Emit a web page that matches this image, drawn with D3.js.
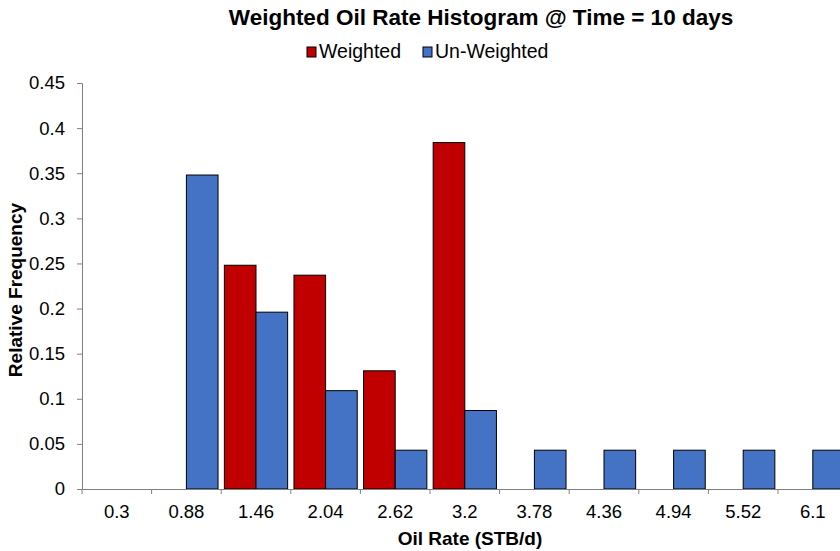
<!DOCTYPE html>
<html>
<head>
<meta charset="utf-8">
<script src="https://cdn.jsdelivr.net/npm/d3@7"></script>
<style>
  body { margin: 0; background: #fff; overflow: hidden; }
  svg { display: block; font-family: "Liberation Sans", Arial, sans-serif; }
</style>
</head>
<body>
<div id="chart"></div>
<script>
// data
const categories = ["0.3", "0.88", "1.46", "2.04", "2.62", "3.2", "3.78", "4.36", "4.94", "5.52", "6.1"];
const series = ["Weighted", "Un-Weighted"];
const weighted = [0, 0, 0.248, 0.237, 0.131, 0.384, 0, 0, 0, 0, 0];
const unweighted = [0, 0.348, 0.196, 0.109, 0.043, 0.087, 0.043, 0.043, 0.043, 0.043, 0.043];
const yTicks = [0, 0.05, 0.1, 0.15, 0.2, 0.25, 0.3, 0.35, 0.4, 0.45];
const yTickLabels = ["0", "0.05", "0.1", "0.15", "0.2", "0.25", "0.3", "0.35", "0.4", "0.45"];
const colors = { "Weighted": "#C00000", "Un-Weighted": "#4472C4" };

const width = 840, height = 551;
const plot = { left: 82, top: 83, bottom: 489, step: 69.6 };
const font = "Liberation Sans, Arial, sans-serif";

const svg = d3.select("#chart").append("svg")
  .attr("width", width)
  .attr("height", height);

const x0 = d3.scaleBand()
  .domain(categories)
  .range([plot.left, plot.left + plot.step * categories.length]);

const x1 = d3.scaleBand()
  .domain(series)
  .range([0, x0.bandwidth()])
  .paddingOuter(0.1);

const y = d3.scaleLinear()
  .domain([0, 0.45])
  .range([plot.bottom, plot.top]);

const rows = categories.map((c, i) => ({
  cat: c,
  vals: [
    { key: "Weighted", value: weighted[i] },
    { key: "Un-Weighted", value: unweighted[i] }
  ]
}));

// bars
const groups = svg.append("g").selectAll("g")
  .data(rows)
  .join("g")
  .attr("transform", d => `translate(${x0(d.cat)},0)`);

groups.selectAll("rect")
  .data(d => d.vals.filter(v => v.value > 0))
  .join("rect")
  .attr("x", d => x1(d.key))
  .attr("y", d => y(d.value))
  .attr("width", x1.bandwidth())
  .attr("height", d => y(0) - y(d.value))
  .attr("fill", d => colors[d.key])
  .attr("stroke", "#000")
  .attr("stroke-width", 1);

// y axis
const yAxis = svg.append("g")
  .attr("transform", `translate(${plot.left},0)`)
  .call(d3.axisLeft(y).tickValues(yTicks).tickSize(5).tickPadding(12)
    .tickFormat((d, i) => yTickLabels[i]));
yAxis.select(".domain").attr("stroke", "#808080");
yAxis.selectAll(".tick line").attr("stroke", "#808080");
yAxis.selectAll("text").attr("font-size", 18.5).attr("fill", "#000")
  .attr("font-family", font);

// x axis
const xAxis = svg.append("g")
  .attr("transform", `translate(0,${plot.bottom})`)
  .call(d3.axisBottom(x0).tickSize(0).tickPadding(16).tickSizeOuter(0));
xAxis.select(".domain").attr("stroke", "#808080");
xAxis.selectAll("text").attr("font-size", 18.5).attr("fill", "#000")
  .attr("font-family", font);
xAxis.selectAll(".boundary")
  .data(categories)
  .join("line")
  .attr("class", "boundary")
  .attr("x1", d => x0(d))
  .attr("x2", d => x0(d))
  .attr("y1", 0)
  .attr("y2", 5)
  .attr("stroke", "#808080");

// titles
svg.append("text")
  .attr("x", 481)
  .attr("y", 25)
  .attr("text-anchor", "middle")
  .attr("font-size", 22.5)
  .attr("font-weight", "bold")
  .text("Weighted Oil Rate Histogram  @ Time = 10 days");

svg.append("text")
  .attr("x", 470)
  .attr("y", 545)
  .attr("text-anchor", "middle")
  .attr("font-size", 19)
  .attr("font-weight", "bold")
  .text("Oil Rate (STB/d)");

svg.append("text")
  .attr("transform", `translate(22,290) rotate(-90)`)
  .attr("text-anchor", "middle")
  .attr("font-size", 19)
  .attr("font-weight", "bold")
  .text("Relative Frequency");

// legend
const legendItems = [
  { key: "Weighted", x: 307 },
  { key: "Un-Weighted", x: 423 }
];
const legend = svg.append("g").selectAll("g")
  .data(legendItems)
  .join("g")
  .attr("transform", d => `translate(${d.x},47)`);
legend.append("rect")
  .attr("width", 9)
  .attr("height", 10)
  .attr("fill", d => colors[d.key])
  .attr("stroke", "#000")
  .attr("stroke-width", 1);
legend.append("text")
  .attr("x", 12)
  .attr("y", 11)
  .attr("font-size", 19.5)
  .text(d => d.key);
</script>
</body>
</html>
